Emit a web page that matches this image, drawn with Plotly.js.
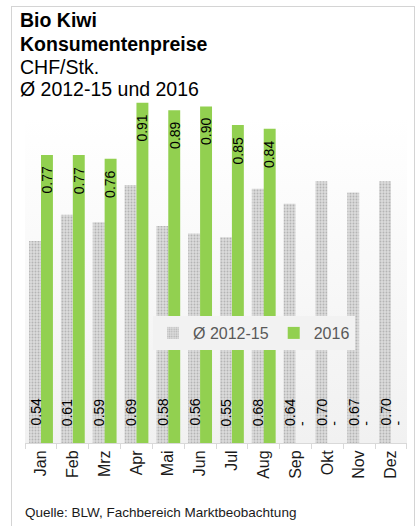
<!DOCTYPE html>
<html>
<head>
<meta charset="utf-8">
<script src="https://cdn.plot.ly/plotly-3.0.1.min.js"></script>
<style>
  html, body { margin: 0; padding: 0; background: #fff; }
  #wrap { position: relative; width: 415px; height: 526px; overflow: hidden; }
  #grad { position: absolute; left: 25px; top: 117px; width: 382px; height: 326px;
          background: linear-gradient(#ffffff, #f1f1f1); }
  #chart { position: absolute; left: 0; top: 0; width: 415px; height: 526px; }
  #frame { position: absolute; left: 11px; top: 6px; width: 402px; height: 540px;
           border: 1.5px solid #d4d4d4; pointer-events: none; }
</style>
</head>
<body>
<div id="wrap">
  <div id="grad"></div>
  <div id="chart"></div>
  <div id="frame"></div>
</div>
<script>
// ---- data ----
var months = ['Jan','Feb','Mrz','Apr','Mai','Jun','Jul','Aug','Sep','Okt','Nov','Dez'];
var avg2012_15 = [0.54,0.61,0.59,0.69,0.58,0.56,0.55,0.68,0.64,0.70,0.67,0.70];
var y2016 = [0.77,0.77,0.76,0.91,0.89,0.90,0.85,0.84,null,null,null,null];
var seriesNames = ['Ø 2012-15','2016'];
var titleLines = ['<b>Bio Kiwi</b>','<b>Konsumentenpreise</b>','CHF/Stk.','Ø 2012-15 und 2016'];
var sourceText = 'Quelle: BLW, Fachbereich Marktbeobachtung';

// ---- layout geometry (px) ----
var W = 415, H = 526;
var mL = 25, mR = 8, mT = 69, mB = 83;
var plotW = W - mL - mR, plotH = H - mT - mB;
function pxX(px){ return (px - mL) / plotW; }
function pxY(py){ return (H - mB - py) / plotH; }
var FONT = 'Liberation Sans, Arial, sans-serif';

var traces = [
  {
    type: 'bar', name: seriesNames[0], x: months, y: avg2012_15,
    marker: { color: '#b4b4b4',
              pattern: { shape: '.', bgcolor: '#dcdcdc', fgcolor: '#b4b4b4', size: 3, solidity: 0.3 },
              line: { width: 0 } },
    hoverinfo: 'x+y'
  },
  {
    type: 'bar', name: seriesNames[1], x: months, y: y2016,
    marker: { color: '#92d050', line: { width: 0 } },
    hoverinfo: 'x+y'
  }
];

var annotations = [];
months.forEach(function(m, i){
  annotations.push({
    x: m, y: 0, xref: 'x', yref: 'y', showarrow: false,
    text: avg2012_15[i].toFixed(2), textangle: -90,
    xanchor: 'center', yanchor: 'bottom', xshift: -6, yshift: 15,
    font: { family: FONT, size: 14, color: '#000' }
  });
  var v = y2016[i];
  if (v === null) {
    annotations.push({
      x: m, y: 0, xref: 'x', yref: 'y', showarrow: false,
      text: '-', textangle: -90,
      xanchor: 'center', yanchor: 'bottom', xshift: 6, yshift: 15,
      font: { family: FONT, size: 14, color: '#000' }
    });
  } else {
    annotations.push({
      x: m, y: v, xref: 'x', yref: 'y', showarrow: false,
      text: v.toFixed(2), textangle: -90,
      xanchor: 'center', yanchor: 'top', xshift: 6, yshift: -10,
      font: { family: FONT, size: 14, color: '#000' }
    });
  }
});

// title lines (bottom of each text box, px from top)
var titleBottoms = [33, 57, 80, 102];
titleLines.forEach(function(t, i){
  annotations.push({
    xref: 'paper', yref: 'paper', x: pxX(18), y: pxY(titleBottoms[i]),
    xanchor: 'left', yanchor: 'bottom', showarrow: false, text: t,
    font: { family: FONT, size: 19.5, color: '#000' }
  });
});

annotations.push({
  xref: 'paper', yref: 'paper', x: pxX(23), y: pxY(522), xanchor: 'left', yanchor: 'bottom',
  showarrow: false, text: sourceText, font: { family: FONT, size: 13.5, color: '#1a1a1a' }
});

var layout = {
  width: W, height: H,
  margin: { l: mL, r: mR, t: mT, b: mB, pad: 0 },
  paper_bgcolor: 'rgba(0,0,0,0)',
  plot_bgcolor: 'rgba(0,0,0,0)',
  font: { family: FONT, color: '#000' },
  barmode: 'group', bargap: 0.25, bargroupgap: 0,
  showlegend: true,
  legend: {
    orientation: 'h', x: pxX(153), y: pxY(316), xanchor: 'left', yanchor: 'top',
    bgcolor: '#f2f2f2', font: { family: FONT, size: 16, color: '#595959' },
    itemwidth: 30, traceorder: 'normal'
  },
  xaxis: {
    type: 'category', tickangle: -90,
    tickfont: { family: FONT, size: 16, color: '#1a1a1a' },
    showline: true, linecolor: '#d9d9d9', linewidth: 1,
    ticks: 'outside', ticklen: 5, tickcolor: '#d9d9d9', tickson: 'boundaries',
    showgrid: false, zeroline: false, fixedrange: true
  },
  yaxis: {
    range: [0, 1], visible: false, showgrid: false, zeroline: false, fixedrange: true
  },
  annotations: annotations
};

Plotly.newPlot('chart', traces, layout, { displayModeBar: false, staticPlot: true });
</script>
</body>
</html>
